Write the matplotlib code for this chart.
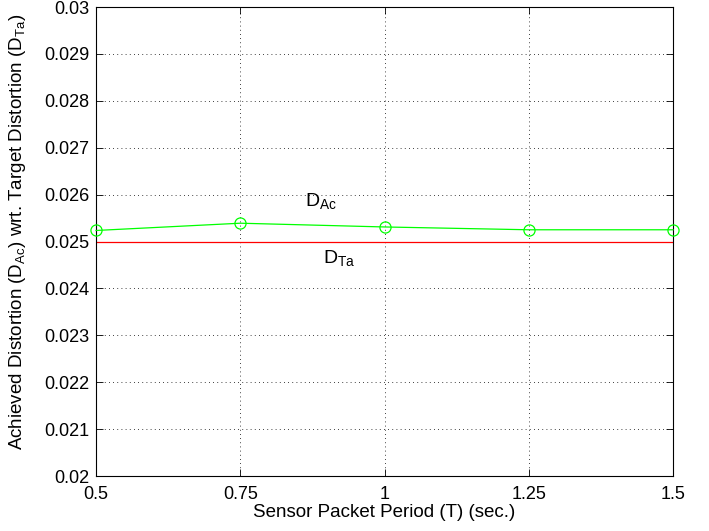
import numpy as np
import matplotlib.pyplot as plt

plt.rcParams['font.family'] = ['Liberation Sans', 'DejaVu Sans']

# sensor packet period (sec.) and achieved distortion
period = [0.5, 0.75, 1.0, 1.25, 1.5]
d_achieved = [0.025235, 0.02539, 0.02531, 0.02525, 0.02525]
d_target = 0.025

xticks = [0.5, 0.75, 1, 1.25, 1.5]
xtick_labels = ['0.5', '0.75', '1', '1.25', '1.5']
yticks = np.round(np.arange(0.020, 0.0301, 0.001), 3)
ytick_labels = ['0.02', '0.021', '0.022', '0.023', '0.024', '0.025',
                '0.026', '0.027', '0.028', '0.029', '0.03']

fig = plt.figure(figsize=(7.09, 5.31), dpi=100)
ax = fig.add_axes([96/709, 1 - 476/531, (673 - 96)/709, (476 - 7)/531])

ax.plot(period, d_achieved, '-', color='#00ff00', lw=0.9,
        marker='o', ms=8, mfc='none', mec='#00ff00', mew=0.9, clip_on=False, zorder=3)
ax.plot([period[0], period[-1]], [d_target, d_target], '-', color='#ff0000', lw=0.9)

ax.text(0.862, 0.02585, r'D$_{\mathregular{Ac}}$', fontsize=14, va='center', ha='left')
ax.text(0.893, 0.02462, r'D$_{\mathregular{Ta}}$', fontsize=14, va='center', ha='left')

ax.set_xlim(0.5, 1.5)
ax.set_ylim(0.02, 0.03)
ax.set_xticks(xticks)
ax.set_xticklabels(xtick_labels)
ax.set_yticks(yticks)
ax.set_yticklabels(ytick_labels)
ax.tick_params(direction='in', labelsize=13, length=5, width=0.6,
               top=True, right=True)
ax.tick_params(axis='x', pad=7)
ax.tick_params(axis='y', pad=5)
ax.grid(True, color='black', linestyle=(0, (1, 4)), linewidth=0.6)
for s in ax.spines.values():
    s.set_linewidth(0.8)

ax.set_xlabel('Sensor Packet Period (T) (sec.)', fontsize=13.5, labelpad=1)
ax.set_ylabel(r'Achieved Distortion (D$_{\mathregular{Ac}}$) wrt. Target Distortion (D$_{\mathregular{Ta}}$)',
              fontsize=13.5)
ax.yaxis.set_label_coords(-0.117, 0.52)

fig.savefig('out.png', dpi=100)
